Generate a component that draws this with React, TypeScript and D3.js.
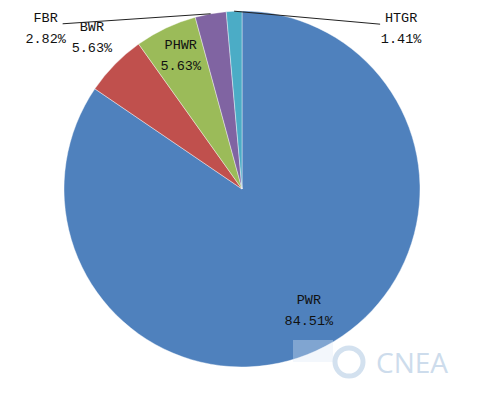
import React, { useEffect, useRef } from 'react';
import * as d3 from 'd3';

const categories = ['PWR', 'BWR', 'PHWR', 'FBR', 'HTGR'];
const shares = [84.51, 5.63, 5.63, 2.82, 1.41];
const colors = ['#4F81BD', '#C0504D', '#9BBB59', '#8064A2', '#4BACC6'];

// label radius for each slice (null = leader line label)
const labelRadius = [143, 210, 143, null, null];
// leader line offset from the slice edge to the text
const leaderOffset: ([number, number] | null)[] = [null, null, null, [-148, 10], [146, 13]];

const App = () => {
  const svgRef = useRef<SVGSVGElement>(null);

  useEffect(() => {
    const width = 500;
    const height = 397;
    const cx = 242;
    const cy = 189;
    const r = 178;

    const svg = d3.select(svgRef.current)
      .attr('width', width)
      .attr('height', height);
    svg.selectAll('*').remove();

    svg.append('rect').attr('width', width).attr('height', height).attr('fill', '#fff');

    const data = categories.map((name, i) => ({ name, value: shares[i], i }));

    const pie = d3.pie<any>()
      .sort(null)
      .value(d => d.value);

    const arc = d3.arc<any>().innerRadius(0).outerRadius(r);

    const g = svg.append('g').attr('transform', `translate(${cx},${cy})`);

    const arcs = pie(data);

    g.selectAll('path')
      .data(arcs)
      .enter()
      .append('path')
      .attr('d', arc)
      .attr('fill', d => colors[d.data.i])
      .attr('stroke', '#ffffff')
      .attr('stroke-opacity', 0.5)
      .attr('stroke-width', 0.8);

    const font = '"Liberation Mono", "DejaVu Sans Mono", monospace';

    arcs.forEach(a => {
      const i = a.data.i;
      const mid = (a.startAngle + a.endAngle) / 2;
      let tx: number, ty: number;
      if (labelRadius[i] != null) {
        const lr = labelRadius[i] as number;
        tx = lr * Math.sin(mid);
        ty = -lr * Math.cos(mid);
      } else {
        const off = leaderOffset[i] as [number, number];
        const px = r * Math.sin(mid);
        const py = -r * Math.cos(mid);
        const ex = px + off[0];
        const ey = py + off[1];
        g.append('path')
          .attr('d', `M${px},${py}L${ex},${ey}`)
          .attr('stroke', '#222')
          .attr('stroke-width', 1)
          .attr('fill', 'none');
        tx = off[0] < 0 ? ex - 17 : ex + 21;
        ty = ey + 9;
      }
      const t = g.append('text')
        .attr('text-anchor', 'middle')
        .attr('font-family', font)
        .attr('font-size', 13.5)
        .attr('fill', '#111');
      t.append('tspan').attr('x', tx).attr('y', ty - 11).text(a.data.name);
      t.append('tspan').attr('x', tx).attr('y', ty + 10).text(a.data.value.toFixed(2) + '%');
    });

    // watermark
    const wm = svg.append('g');
    wm.append('rect')
      .attr('x', 293).attr('y', 340).attr('width', 40).attr('height', 22)
      .attr('fill', '#dce8f5').attr('opacity', 0.35);
    wm.append('circle')
      .attr('cx', 349).attr('cy', 362).attr('r', 14)
      .attr('fill', 'none').attr('stroke', '#d3e1ef').attr('stroke-width', 5);
    wm.append('text')
      .attr('x', 376).attr('y', 373)
      .attr('font-family', '"Open Sans", sans-serif')
      .attr('font-size', 28)
      .attr('fill', '#cddcec')
      .text('CNEA');
  }, []);

  return (
    <div style={{ margin: -8 }}>
      <svg ref={svgRef} style={{ display: 'block' }}></svg>
    </div>
  );
};

export default App;
